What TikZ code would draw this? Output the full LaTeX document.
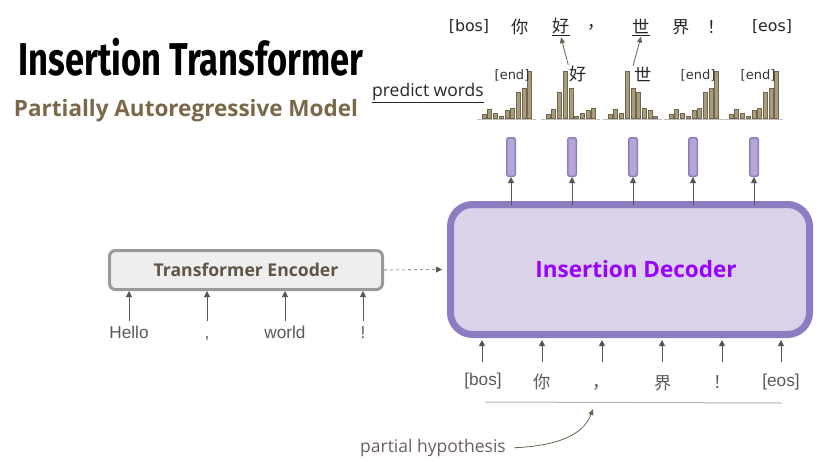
\documentclass[tikz,border=0pt]{standalone}
\usepackage{fontspec}
\setmainfont{Open Sans}
\newfontfamily\arialfont{Liberation Sans}
\newfontfamily\verdfont{DejaVu Sans}
\newfontfamily\cjk{Noto Sans CJK SC}
\newfontfamily\titlefont[FakeStretch=0.75]{Fira Sans}
\usetikzlibrary{calc,arrows.meta,positioning}
\usepackage{xcolor}
\definecolor{decBorder}{RGB}{142,124,195}
\definecolor{decFill}{RGB}{217,210,233}
\definecolor{vecFill}{RGB}{180,167,214}
\definecolor{decText}{RGB}{153,0,255}
\definecolor{encFill}{RGB}{238,238,238}
\definecolor{encBorder}{RGB}{153,153,153}
\definecolor{encText}{RGB}{95,84,70}
\definecolor{subColor}{RGB}{123,104,72}
\definecolor{barFill}{RGB}{168,156,122}
\definecolor{barLine}{RGB}{112,102,80}
\definecolor{inText}{RGB}{89,89,89}
\definecolor{hypText}{RGB}{109,94,94}
\definecolor{arrowColor}{RGB}{85,85,85}
\definecolor{pickColor}{RGB}{107,99,80}
\newcommand{\labfont}{\fontsize{17.2}{19}\selectfont}
\newcommand{\notefont}{\fontsize{17.5}{20}\selectfont}
\newcommand{\tagfont}{\fontsize{13}{15}\selectfont}

\begin{document}
\begin{tikzpicture}[x=1pt,y=-1pt,
        dec/.style={draw=decBorder, line width=7pt, fill=decFill, rounded corners=22pt, minimum width=359pt, minimum height=130pt, font=\fontsize{22.5}{26}\selectfont\bfseries, text=decText},
        enc/.style={draw=encBorder, line width=3pt, fill=encFill, rounded corners=6pt, minimum width=273pt, minimum height=39pt, font=\fontsize{17.6}{20}\selectfont\bfseries, text=encText},
        vec/.style={draw=decBorder, line width=1.5pt, fill=vecFill, rounded corners=2pt, minimum width=8.5pt, minimum height=38.5pt, inner sep=0pt},
        inword/.style={font=\arialfont\labfont, text=inText, text height=12pt, text depth=4pt, inner sep=0pt},
        cjkword/.style={font=\cjk\labfont, text=inText, text height=12pt, text depth=4pt, inner sep=0pt},
        outword/.style={font=\verdfont\fontsize{15.8}{18}\selectfont, text=black!85, inner sep=1pt},
        outcjk/.style={font=\cjk\labfont, text=black!85, inner sep=1pt},
        endlab/.style={font=\verdfont\tagfont, text=black!80, inner sep=1pt},
        bar/.style={draw=barLine, fill=barFill, line width=0.6pt},
        histbase/.style={draw=black!25, line width=1pt},
        arr/.style={-{Triangle[length=6pt,width=6pt]}, line width=0.9pt, arrowColor},
        pick/.style={-{Triangle[length=6pt,width=5pt]}, line width=0.8pt, pickColor},
        >=Latex
      ]
      \useasboundingbox (0,0) rectangle (834,461);

      % title
      \node (title) at (191,57) {\titlefont\bfseries\fontsize{46}{50}\selectfont Insertion Transformer};
      \node[font=\fontsize{22.5}{26}\selectfont\bfseries, text=subColor] (sub) at (186,111) {Partially Autoregressive Model};

      % encoder side
      \node[enc] (enc) at (246,270) {Transformer Encoder};
      \node[inword] (x1) at (129,334) {Hello};
      \node[inword] (x2) at (207,334) {,};
      \node[inword] (x3) at (285,334) {world};
      \node[inword] (x4) at (363,334) {!};
      \foreach \i in {1,...,4}
        \draw[arr] (x\i.north) ++(0,-5) -- (x\i |- enc.south);

      % decoder
      \node[dec] (dec) at (630,269.5) {\hspace*{12pt}Insertion Decoder};
      \draw[arr, dashed, line width=0.6pt] (enc.east) -- ([xshift=-5pt]dec.west);

      % partial hypothesis
      \node[inword] (b1) at (483,381) {[bos]};
      \node[cjkword] (b2) at (542,384) {你};
      \node[cjkword] (b3) at (601,384) {，};
      \node[cjkword] (b4) at (663,385) {界};
      \node[cjkword] (b5) at (722,384) {！};
      \node[inword] (b6) at (781,382) {[eos]};
      \foreach \i/\bx in {1/482,2/542,3/602,4/662,5/722,6/781}
        \draw[arr] (\bx,362) -- (\bx,340);

      \coordinate (hl) at (485,402);
      \coordinate (hr) at (782,403);
      \coordinate (hm) at (593,409);
      \draw[black!30, line width=1pt] (hl) -- (hr);
      \node[font=\notefont, text=hypText, inner sep=2pt] (ph) at (433,448) {partial hypothesis};
      \draw[pick, shorten <=6pt] (ph.east) .. controls (555,446) and (583,436) .. (hm);

      % output vectors
      \foreach \i/\vx in {1/511,2/572,3/633,4/693,5/754} {
        \node[vec] (p\i) at (\vx,157) {};
        \draw[arr] ([yshift=-4pt]p\i.south |- dec.north) -- (p\i.south);
      }

      % word distributions
      \foreach \hx/\hs in {482/{4,9,5,2.3,8,10,26,30,47}, 546/{4,9,26,47,30,2,5,8,10}, 608/{4,9,5,47,30,26,10,8,2}, 669/{4,9,5,2.3,8,10,26,30,47}, 729/{4,9,5,2.3,8,10,26,30,47}} {
        \draw[histbase] (\hx-5,119.5) -- (\hx+54,119.5);
        \foreach \h [count=\k from 0] in \hs
          \draw[bar] (\hx+\k*5.7,118.5) rectangle (\hx+\k*5.7+4,118.5-\h);
      }
      \node[endlab] (w1) at (512,75) {[end]};
      \node[outcjk] (w2) at (578,74) {好};
      \node[outcjk] (w3) at (643,74) {世};
      \node[endlab] (w4) at (698,75) {[end]};
      \node[endlab] (w5) at (758,75) {[end]};
      \node[font=\notefont, text=black!85] (pw) at (428,93) {\underline{predict words}};

      % predicted sentence
      \node[outword] (t1) at (469,27) {[bos]};
      \node[outcjk] (t2) at (520,27) {你};
      \node[outcjk] (t3) at (561,27) {\underline{好}};
      \node[outcjk] (t4) at (596,27) {，};
      \node[outcjk] (t5) at (641,27) {\underline{世}};
      \node[outcjk] (t6) at (681,27) {界};
      \node[outcjk] (t7) at (716,27) {！};
      \node[outword] (t8) at (772,27) {[eos]};
      \draw[pick] (w2.north west) -- (t3.south);
      \draw[pick] (w3.north west) -- (t5.south);
    \end{tikzpicture}
\end{document}
